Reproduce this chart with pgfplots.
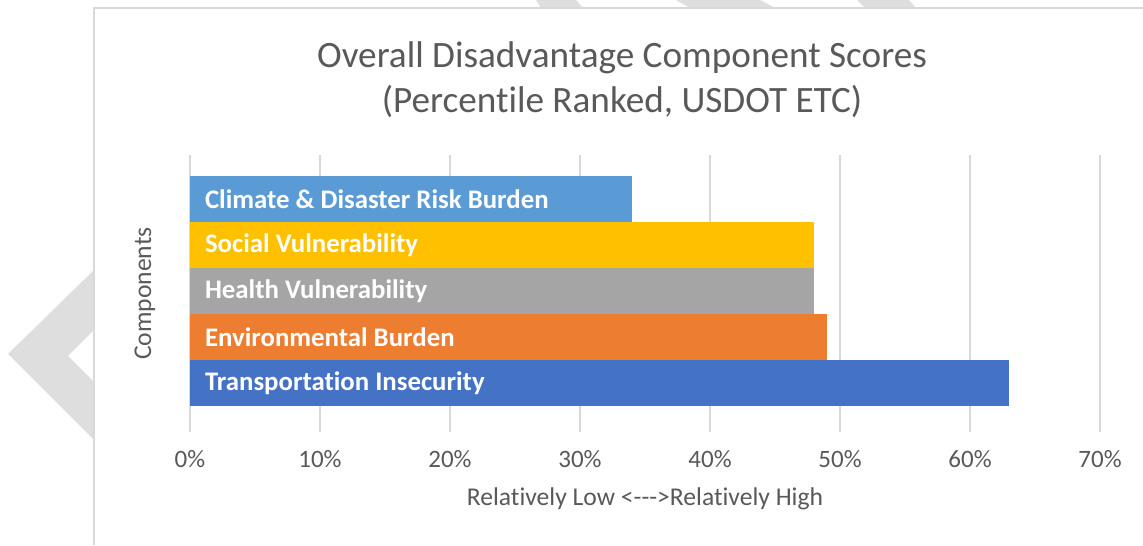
\documentclass[border=0pt]{standalone}
\usepackage{fontspec}
\setmainfont{Carlito}[Ligatures={NoCommon}]
\usepackage{pgfplots}
\pgfplotsset{compat=1.18}
\definecolor{gridgray}{HTML}{D9D9D9}
\definecolor{labelgray}{HTML}{595959}
\definecolor{wmgray}{HTML}{DEDEDE}
\definecolor{cClimate}{HTML}{5B9BD5}
\definecolor{cSocial}{HTML}{FFC000}
\definecolor{cHealth}{HTML}{A5A5A5}
\definecolor{cEnv}{HTML}{ED7D31}
\definecolor{cTrans}{HTML}{4472C4}

\begin{document}
\begin{tikzpicture}[x=0.5pt,y=0.5pt]
\path[use as bounding box] (0,0) rectangle (1143,545);
% watermark pieces behind the chart area
\fill[wmgray] (94,275)--(8,191)--(94,105)--(94,163)--(68,189)--(94,215)--cycle;
\fill[wmgray] (536,545)--(576,545)--(583,537)--(541,537)--cycle;
\fill[wmgray] (676,545)--(760,545)--(775,537)--(690,537)--cycle;
\fill[wmgray] (857,545)--(909,545)--(916,537)--(865,537)--cycle;
% chart area frame
\fill[white] (94,0) rectangle (1143,537);
\draw[gridgray, line width=0.75pt] (94,0)--(94,537)--(1143,537);

\node[align=center, text=labelgray, font=\fontsize{18.6}{22.5}\selectfont]
  at (622,465) {Overall Disadvantage Component Scores\\(Percentile Ranked, USDOT ETC)};

\begin{axis}[
  at={(95pt,56.5pt)}, anchor=south west,
  scale only axis, width=455pt, height=138.5pt,
  xbar, bar width=23pt, bar shift=0pt,
  xmin=0, xmax=70, ymin=-1.065, ymax=4.957,
  xtick={0,10,20,30,40,50,60,70},
  xticklabels={0\%,10\%,20\%,30\%,40\%,50\%,60\%,70\%},
  ytick=\empty,
  xmajorgrids, grid style={gridgray, line width=0.75pt},
  axis line style={draw=none}, major tick length=0pt,
  tick label style={font=\fontsize{12.5}{14}\selectfont, text=labelgray},
  xticklabel style={yshift=-5.5pt},
  xlabel={Relatively Low <{-}{-}{-}>Relatively High},
  ylabel={Components},
  label style={font=\fontsize{12.8}{14}\selectfont, text=labelgray},
  xlabel style={at={(axis description cs:0.5,0)}, anchor=center, yshift=-33.5pt},
  ylabel style={at={(axis description cs:0,0.5)}, anchor=center, xshift=0pt, yshift=22.5pt},
  clip=false,
]
\addplot[fill=cTrans, draw=none] coordinates {(63,0)};
\addplot[fill=cEnv, draw=none] coordinates {(49,1)};
\addplot[fill=cHealth, draw=none] coordinates {(48,2)};
\addplot[fill=cSocial, draw=none] coordinates {(48,3)};
\addplot[fill=cClimate, draw=none] coordinates {(34,4)};
\begin{scope}[every node/.style={anchor=west, text=white, font=\bfseries\fontsize{13.4}{16}\selectfont, xshift=4pt}]
\node at (axis cs:0,0) {Transportation Insecurity};
\node at (axis cs:0,1) {Environmental Burden};
\node at (axis cs:0,2) {Health Vulnerability};
\node at (axis cs:0,3) {Social Vulnerability};
\node at (axis cs:0,4) {Climate \& Disaster Risk Burden};
\end{scope}
\end{axis}
\end{tikzpicture}
\end{document}
